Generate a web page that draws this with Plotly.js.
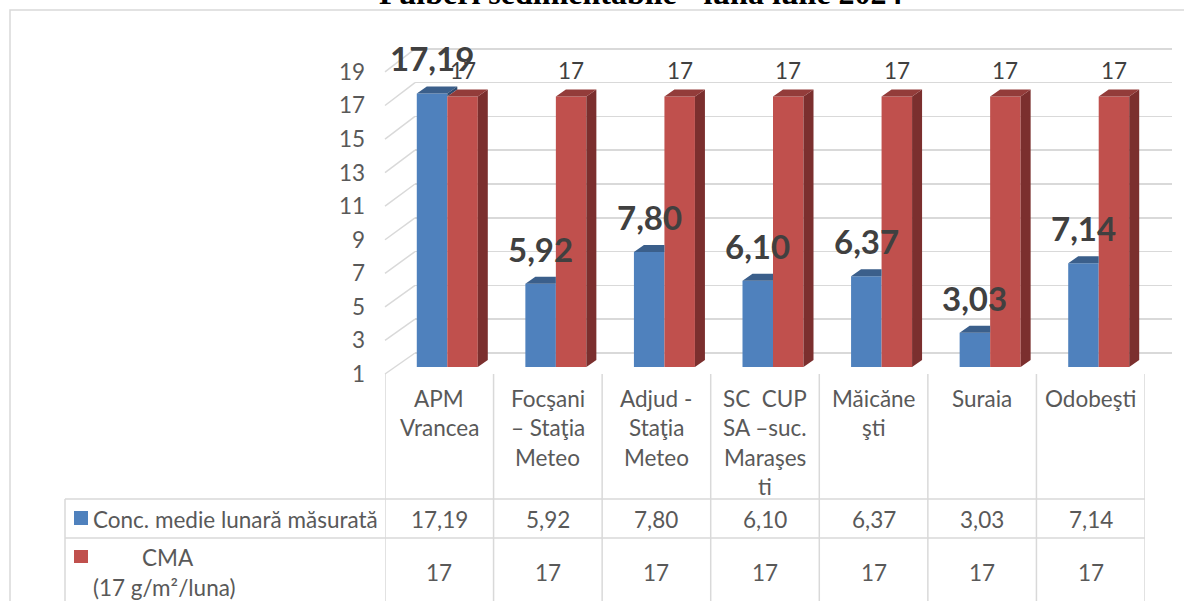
<!DOCTYPE html>
<html><head><meta charset="utf-8">
<script src="https://cdn.plot.ly/plotly-3.0.1.min.js"></script>
<style>html,body{margin:0;padding:0;background:#fff}#chart{width:1184px;height:601px}</style>
</head><body><div id="chart"></div>
<script>
// ---------- data ----------
const chartTitle = "Pulberi sedimentabile - luna iulie 2024";
const categories = ["APM Vrancea", "Focşani – Staţia Meteo", "Adjud - Staţia Meteo", "SC  CUP SA –suc. Maraşesti", "Măicăneşti", "Suraia", "Odobeşti"];
const categoryLines = [["APM", "Vrancea"], ["Focşani", "– Staţia", "Meteo"], ["Adjud -", "Staţia", "Meteo"], ["SC\u00a0 CUP", "SA –suc.", "Maraşes", "ti"], ["Măicăne", "şti"], ["Suraia"], ["Odobeşti"]];
const concValues = [17.19, 5.92, 7.80, 6.10, 6.37, 3.03, 7.14];
const cmaValues = [17, 17, 17, 17, 17, 17, 17];
const concName = "Conc. medie lunară măsurată";
const cmaNameLines = ["CMA", "(17 g/m²/luna)"];
const yTickValues = [1, 3, 5, 7, 9, 11, 13, 15, 17, 19];

// ---------- geometry helpers ----------
const W = 1184, H = 601;
const fx = p => p / W;
const fy = p => 1 - p / H;
const S = 16.9;               // px per unit
function yAxisGeom(basePx, baseVal, scale, topPx, bottomPx) {
  return {domain: [fy(bottomPx), fy(topPx)],
          range: [baseVal - (bottomPx - basePx) / scale, baseVal + (basePx - topPx) / scale]};
}
const FONT = "Lato, 'Open Sans', sans-serif";
const TXT = '#595959';
const GRID = '#D9D9D9';
const FS = 22.5;

const colBlue = '#4F81BD', colBlueTop = '#3B5F8B', colBlueSide = '#2E4B6F';
const colRed = '#C0504D', colRedTop = '#933C3A', colRedSide = '#7B2F2E';

const barX0 = 393, barX1 = 1153;
const catPx = (barX1 - barX0) / categories.length;
const w = 30.5 / catPx;       // bar width in category units
const dx = 10 / catPx;        // depth shift x
const dy = 7 / S;             // depth shift y (value units)
const yBase = yTickValues[0];
const idx = categories.map((_, i) => i);

function polys(list) {
  const xs = [], ys = [];
  list.forEach(pts => {
    pts.forEach(p => { xs.push(p[0]); ys.push(p[1]); });
    xs.push(pts[0][0]); ys.push(pts[0][1]);
    xs.push(null); ys.push(null);
  });
  return {xs, ys};
}
function faceTrace(list, color) {
  const p = polys(list);
  return {type: 'scatter', mode: 'lines', x: p.xs, y: p.ys, xaxis: 'x2', yaxis: 'y2',
          fill: 'toself', fillcolor: color, line: {width: 0, color: color}, hoverinfo: 'skip', connectgaps: false};
}

const traces = [];
// back-wall grid subplot (drawn first)
traces.push({type: 'scatter', x: [0.5], y: [yBase], xaxis: 'x', yaxis: 'y', mode: 'markers', marker: {opacity: 0}, hoverinfo: 'skip'});
// front bars
traces.push({type: 'bar', x: idx, y: concValues, xaxis: 'x2', yaxis: 'y2', width: w, offset: -w,
             marker: {color: colBlue, line: {width: 0}}, name: concName, hovertext: categories, hoverinfo: 'text+y'});
traces.push({type: 'bar', x: idx, y: cmaValues, xaxis: 'x2', yaxis: 'y2', width: w, offset: 0,
             marker: {color: colRed, line: {width: 0}}, name: cmaNameLines.join(' '), hovertext: categories, hoverinfo: 'text+y'});
// 3D faces
const blueTops = [], blueSides = [], redTops = [], redSides = [];
idx.forEach(i => {
  const vb = concValues[i], vr = cmaValues[i];
  const right = vb > vr ? i + dx : i;
  blueTops.push([[i - w, vb], [i - w + dx, vb + dy], [right, vb + dy], [i, vb]]);
  if (vb > vr) blueSides.push([[i, vr], [i + dx, vr + dy], [i + dx, vb + dy], [i, vb]]);
  redTops.push([[i, vr], [i + dx, vr + dy], [i + w + dx, vr + dy], [i + w, vr]]);
  redSides.push([[i + w, yBase], [i + w + dx, yBase + dy], [i + w + dx, vr + dy], [i + w, vr]]);
});
traces.push(faceTrace(blueTops, colBlueTop));
if (blueSides.length) traces.push(faceTrace(blueSides, colBlueSide));
traces.push(faceTrace(redSides, colRedSide));
traces.push(faceTrace(redTops, colRedTop));
// front label subplot
traces.push({type: 'scatter', x: [0], y: [yBase], xaxis: 'x3', yaxis: 'y3', mode: 'markers', marker: {opacity: 0}, hoverinfo: 'skip'});

// ---------- axes ----------
const gBack = yAxisGeom(353, yBase, S, 40, 356);
const gBars = yAxisGeom(367, yBase, S, 20, 367);
const gFront = yAxisGeom(374, yBase, 16.78, 50, 385);

const layout = {
  width: W, height: H, margin: {l: 0, r: 0, t: 0, b: 0},
  paper_bgcolor: '#ffffff', plot_bgcolor: 'rgba(0,0,0,0)',
  showlegend: false, barmode: 'overlay',
  font: {family: FONT, color: TXT, size: FS},
  xaxis: {domain: [fx(415), fx(1172)], range: [0, 1], anchor: 'y', visible: false, fixedrange: true},
  yaxis: {domain: gBack.domain, range: gBack.range, anchor: 'x', tickmode: 'linear', tick0: yBase, dtick: 2,
          showgrid: true, gridcolor: GRID, gridwidth: 1.5, showticklabels: false, zeroline: false, showline: false, ticks: '', fixedrange: true},
  xaxis2: {domain: [fx(barX0), fx(barX1)], range: [-0.5, categories.length - 0.5], anchor: 'y2', visible: false, fixedrange: true},
  yaxis2: {domain: gBars.domain, range: gBars.range, anchor: 'x2', visible: false, fixedrange: true},
  xaxis3: {domain: [fx(385), fx(1145)], range: [-0.5, categories.length - 0.5], anchor: 'y3', visible: false, fixedrange: true},
  yaxis3: {domain: gFront.domain, range: gFront.range, anchor: 'free', position: fx(365), side: 'left',
           tickmode: 'array', tickvals: yTickValues, ticktext: yTickValues.map(String),
           showgrid: false, zeroline: false, showline: false, ticks: '', tickfont: {family: FONT, size: FS, color: TXT}, fixedrange: true},
};

// ---------- shapes ----------
const shapes = [];
// outer chart border
shapes.push({type: 'rect', xref: 'paper', yref: 'paper', x0: fx(10), x1: 1.05, y0: -0.05, y1: fy(10), line: {color: GRID, width: 1.5}});
// left side wall diagonals (front label level -> back wall grid)
yTickValues.forEach(v => {
  const frontPx = 374 - (v - yBase) * 16.78;
  const backPx = 353 - (v - yBase) * S;
  shapes.push({type: 'line', xref: 'paper', yref: 'paper', x0: fx(385), y0: fy(frontPx), x1: fx(415), y1: fy(backPx), line: {color: GRID, width: 1.5}});
});
// table vertical lines (column boundaries of the front axis)
for (let i = 0; i <= categories.length; i++) {
  shapes.push({type: 'line', xref: 'x3', yref: 'paper', x0: i - 0.5, x1: i - 0.5, y0: fy(374), y1: fy(610), line: {color: GRID, width: 1.5}});
}
// table left column + horizontal lines
shapes.push({type: 'line', xref: 'paper', yref: 'paper', x0: fx(65), x1: fx(65), y0: fy(499), y1: fy(610), line: {color: GRID, width: 1.5}});
[499, 538].forEach(p => shapes.push({type: 'line', xref: 'paper', yref: 'paper', x0: fx(65), x1: fx(1145), y0: fy(p), y1: fy(p), line: {color: GRID, width: 1.5}}));
// legend keys
shapes.push({type: 'rect', xref: 'paper', yref: 'paper', x0: fx(74), x1: fx(88), y0: fy(525), y1: fy(511), fillcolor: colBlue, line: {width: 0}});
shapes.push({type: 'rect', xref: 'paper', yref: 'paper', x0: fx(74), x1: fx(88), y0: fy(563), y1: fy(550), fillcolor: colRed, line: {width: 0}});
layout.shapes = shapes;

// ---------- annotations ----------
const fmt = v => v.toFixed(2).replace('.', ',');
const ann = [];
ann.push({text: chartTitle, xref: 'paper', yref: 'paper', x: fx(641), y: fy(13), xanchor: 'center', yanchor: 'bottom', showarrow: false,
          font: {family: "'Liberation Serif', 'Times New Roman', serif", size: 32, weight: 'bold', color: '#000000'}});
cmaValues.forEach((v, i) => ann.push({text: String(v), xref: 'x2', yref: 'y2', x: i + w / 2, y: v, xanchor: 'center', yanchor: 'bottom',
  yshift: 11, showarrow: false, font: {family: FONT, size: FS, color: '#404040'}}));
concValues.forEach((v, i) => ann.push({text: fmt(v), xref: 'x2', yref: 'y2', x: i - w / 2, y: v, xanchor: 'center', yanchor: 'bottom',
  yshift: 13, showarrow: false, font: {family: FONT, size: 33, weight: 'bold', color: '#404040'}}));
// table: category header
categoryLines.forEach((lines, i) => lines.forEach((t, k) => ann.push({text: t, xref: 'x3', yref: 'paper', x: i, y: fy(398 + 29.5 * k),
  xanchor: 'center', yanchor: 'middle', showarrow: false, font: {family: FONT, size: FS, color: TXT}})));
// table rows
concValues.forEach((v, i) => ann.push({text: fmt(v), xref: 'x3', yref: 'paper', x: i, y: fy(519), xanchor: 'center', yanchor: 'middle', showarrow: false, font: {family: FONT, size: FS, color: TXT}}));
cmaValues.forEach((v, i) => ann.push({text: String(v), xref: 'x3', yref: 'paper', x: i, y: fy(572), xanchor: 'center', yanchor: 'middle', showarrow: false, font: {family: FONT, size: FS, color: TXT}}));
// table legend labels
ann.push({text: concName, xref: 'paper', yref: 'paper', x: fx(91), y: fy(519), xanchor: 'left', yanchor: 'middle', showarrow: false, font: {family: FONT, size: FS, color: TXT}});
ann.push({text: cmaNameLines[0], xref: 'paper', yref: 'paper', x: fx(140), y: fy(557), xanchor: 'left', yanchor: 'middle', showarrow: false, font: {family: FONT, size: FS, color: TXT}});
ann.push({text: cmaNameLines[1], xref: 'paper', yref: 'paper', x: fx(91), y: fy(587), xanchor: 'left', yanchor: 'middle', showarrow: false, font: {family: FONT, size: FS, color: TXT}});
layout.annotations = ann;

Plotly.newPlot('chart', traces, layout, {displayModeBar: false, staticPlot: true});
</script>
</body></html>
